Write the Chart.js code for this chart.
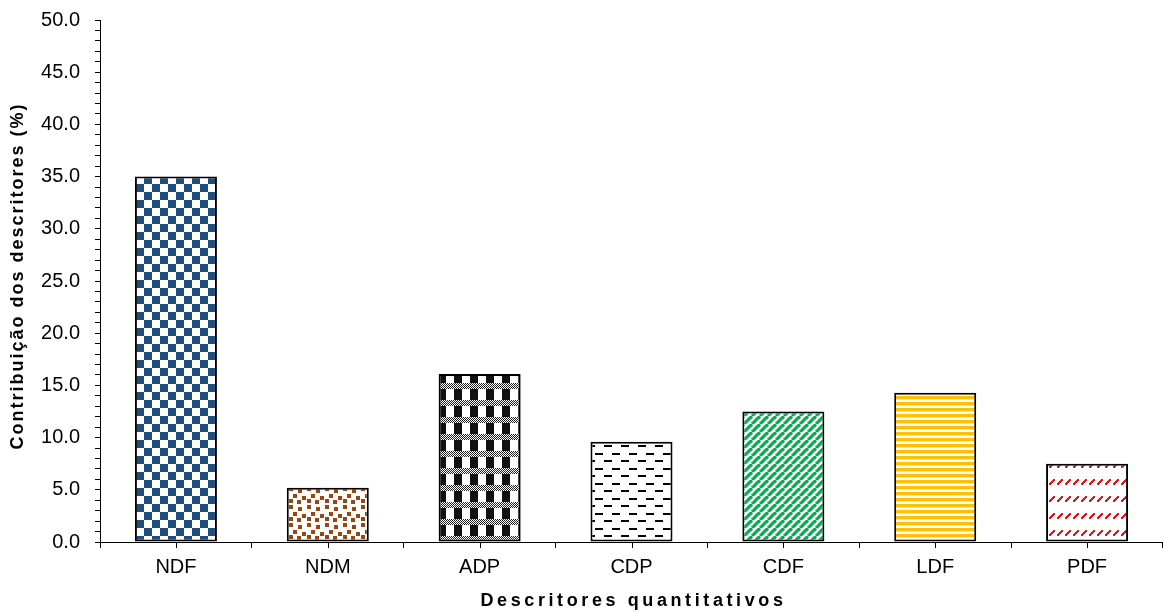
<!DOCTYPE html>
<html>
<head>
<meta charset="utf-8">
<script src="https://cdn.jsdelivr.net/npm/chart.js@4/dist/chart.umd.min.js"></script>
<style>
  html, body { margin: 0; padding: 0; background: #fff; }
  #wrap { width: 1163px; height: 612px; position: relative; }
</style>
</head>
<body>
<div id="wrap"><canvas id="myChart"></canvas></div>
<script>
// data
const descritores = ['NDF', 'NDM', 'ADP', 'CDP', 'CDF', 'LDF', 'PDF'];
const contribuicao = [35.0, 5.2, 16.1, 9.6, 12.5, 14.3, 7.5];
const yTitle = 'Contribuição dos descritores (%)';
const xTitle = 'Descritores quantitativos';

// small tiles for the Excel-like pattern fills
function makePattern(w, h, draw) {
    const c = document.createElement('canvas');
    c.width = w; c.height = h;
    const g = c.getContext('2d');
    g.fillStyle = '#fff';
    g.fillRect(0, 0, w, h);
    draw(g);
    return document.getElementById('myChart').getContext('2d').createPattern(c, 'repeat');
}

const checker = makePattern(16, 16, g => {
    g.fillStyle = '#1f4e7c';
    g.fillRect(0, 0, 8, 8);
    g.fillRect(8, 8, 8, 8);
});

const brownDots = makePattern(18, 18, g => {
    g.fillStyle = '#9a4612';
    [[1, 1], [10, 3], [5, 8], [14, 10], [1, 13], [9, 14]].forEach(p => g.fillRect(p[0], p[1], 4, 4));
});

const blackGrid = makePattern(16, 17, g => {
    g.fillStyle = '#111';
    g.fillRect(6, 0, 8, 17);
    g.fillStyle = '#fff';
    g.fillRect(0, 9, 16, 6);
    g.fillStyle = '#222';
    for (let x = 0; x < 16; x++) {
        for (let y = 9; y < 15; y++) {
            if ((x + y) % 2 === 0) g.fillRect(x, y, 1, 1);
        }
    }
});

const dashes = makePattern(17, 15, g => {
    g.fillStyle = '#000';
    g.fillRect(0, 3, 8, 2);
    g.fillRect(9, 10, 8, 2);
});

const greenDiag = makePattern(8, 8, g => {
    g.strokeStyle = '#00b050';
    g.lineWidth = 3.2;
    for (let k = -8; k <= 16; k += 8) {
        g.beginPath();
        g.moveTo(k, 8);
        g.lineTo(k + 8, 0);
        g.stroke();
    }
});

const yellowLines = makePattern(4, 6, g => {
    g.fillStyle = '#ffc000';
    g.fillRect(0, 0, 4, 3);
    g.fillStyle = '#ffe699';
    g.fillRect(0, 3, 4, 1);
});

const redDash = makePattern(8, 17, g => {
    g.fillStyle = '#e0141e';
    for (let i = 0; i < 5; i++) g.fillRect(1 + i, 7 - i, 2, 2);
});

const fills = [checker, brownDots, blackGrid, dashes, greenDiag, yellowLines, redDash];

// extra ticks under the middle of each category, plus the spaced-out axis titles
const axisExtras = {
    id: 'axisExtras',
    afterDraw(chart) {
        const x = chart.scales.x, ctx = chart.ctx;
        ctx.save();
        ctx.strokeStyle = '#000';
        ctx.lineWidth = 1;
        descritores.forEach((d, i) => {
            const px = Math.round(x.getPixelForValue(i)) + 0.5;
            ctx.beginPath();
            ctx.moveTo(px, x.top);
            ctx.lineTo(px, x.top + 6);
            ctx.stroke();
        });
        ctx.fillStyle = '#000';
        ctx.font = 'bold 18px "Liberation Sans", Arial, sans-serif';
        ctx.textAlign = 'center';
        ctx.textBaseline = 'middle';
        ctx.letterSpacing = '3.6px';
        ctx.fillText(xTitle, (chart.chartArea.left + chart.chartArea.right) / 2 + 2, 601);
        ctx.letterSpacing = '2px';
        ctx.translate(18, 277);
        ctx.rotate(-Math.PI / 2);
        ctx.fillText(yTitle, 1, 0);
        ctx.restore();
    }
};

Chart.defaults.font.family = '"Liberation Sans", Arial, sans-serif';
Chart.defaults.color = '#000';

new Chart(document.getElementById('myChart'), {
    type: 'bar',
    data: {
        labels: descritores,
        datasets: [{
            label: 'Contribuição',
            data: contribuicao,
            backgroundColor: fills,
            borderColor: '#000',
            borderWidth: 2,
            borderSkipped: false,
            categoryPercentage: 1,
            barPercentage: 0.54
        }]
    },
    options: {
        responsive: true,
        maintainAspectRatio: false,
        animation: false,
        layout: { padding: { top: 20, right: 0, left: 0, bottom: 0 } },
        plugins: {
            legend: { display: false },
            tooltip: { enabled: false }
        },
        scales: {
            x: {
                grid: { offset: true, drawOnChartArea: false, tickLength: 6, color: '#000' },
                border: { color: '#000', width: 1 },
                ticks: { font: { size: 20 }, padding: 7 },
                afterFit(scale) { scale.height = 70; scale.paddingLeft = 0; scale.paddingRight = 0; }
            },
            y: {
                min: 0,
                max: 50,
                grid: { drawOnChartArea: false, tickLength: 5, color: '#000' },
                border: { color: '#000', width: 1 },
                ticks: {
                    stepSize: 1,
                    autoSkip: false,
                    font: { size: 20 },
                    padding: 15,
                    callback: v => (v % 5 === 0 ? v.toFixed(1) : '')
                },
                afterFit(scale) { scale.width = 100; scale.paddingTop = 0; scale.paddingBottom = 0; }
            }
        }
    },
    plugins: [axisExtras]
});
</script>
</body>
</html>
